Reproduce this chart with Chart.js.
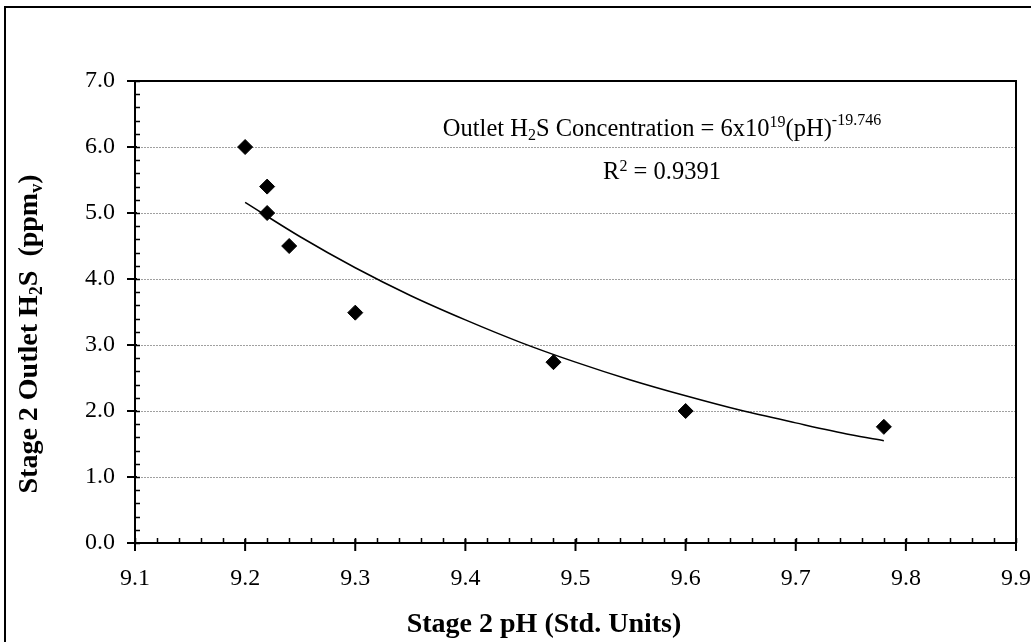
<!DOCTYPE html>
<html lang="en">
<head>
  <meta charset="UTF-8" />
  <title>Stage 2 Outlet H2S vs pH</title>
  <script src="https://cdn.jsdelivr.net/npm/chart.js"></script>
  <style>
    body { margin: 0; background: #fff; }
    canvas { display: block; }
  </style>
</head>
<body>
  <canvas id="phChart" width="1031" height="642"></canvas>

  <script>
    // measured points
    const phValues  = [9.20, 9.22, 9.22, 9.24, 9.30, 9.48, 9.60, 9.78];
    const h2sValues = [6.00, 5.40, 5.00, 4.50, 3.49, 2.74, 2.00, 1.76];

    // power trendline
    const trendPh  = [9.20, 9.25, 9.30, 9.35, 9.40, 9.45, 9.50, 9.55, 9.60, 9.65, 9.70, 9.75, 9.78];
    const trendH2s = [5.16, 4.64, 4.17, 3.75, 3.38, 3.04, 2.74, 2.47, 2.23, 2.01, 1.82, 1.64, 1.55];

    // axis ticks
    const xTicks = [9.1, 9.2, 9.3, 9.4, 9.5, 9.6, 9.7, 9.8, 9.9];
    const yTicks = [0, 1, 2, 3, 4, 5, 6, 7];

    const SERIF = "'Liberation Serif', 'Times New Roman', serif";
    const reg = px => `${px}px ${SERIF}`;
    const bold = px => `bold ${px}px ${SERIF}`;

    // text with sub/superscripts, centred on x
    function drawRich(ctx, parts, x, y) {
      let total = 0;
      parts.forEach(p => { ctx.font = p.f; p.w = ctx.measureText(p.t).width; total += p.w; });
      let cx = x - total / 2;
      ctx.textAlign = 'left';
      ctx.textBaseline = 'alphabetic';
      parts.forEach(p => {
        ctx.font = p.f;
        ctx.fillText(p.t, cx, y + (p.dy || 0));
        cx += p.w;
      });
    }

    const frame = {
      id: 'frame',
      beforeDraw(chart) {
        const ctx = chart.ctx;
        ctx.save();
        ctx.fillStyle = '#fff';
        ctx.fillRect(0, 0, chart.width, chart.height);
        ctx.restore();
      },
      afterDraw(chart) {
        const { ctx, chartArea: a, scales: { x, y } } = chart;
        ctx.save();
        ctx.strokeStyle = '#000';
        ctx.fillStyle = '#000';

        // outer chart border (runs off the right and bottom)
        ctx.lineWidth = 2;
        ctx.strokeRect(5, 7, 1100, 700);

        // plot area top + right
        ctx.beginPath();
        ctx.moveTo(a.left, a.top);
        ctx.lineTo(a.right, a.top);
        ctx.lineTo(a.right, a.bottom);
        ctx.stroke();

        // axes
        ctx.beginPath();
        ctx.moveTo(a.left, a.top);
        ctx.lineTo(a.left, a.bottom);
        ctx.lineTo(a.right, a.bottom);
        ctx.stroke();

        // minor ticks (inside)
        ctx.lineWidth = 1.5;
        ctx.beginPath();
        for (let i = 0; i <= 35; i++) {
          const py = Math.round(y.getPixelForValue(i * 0.2)) + 0.5;
          ctx.moveTo(a.left, py); ctx.lineTo(a.left + 5, py);
        }
        for (let i = 0; i <= 40; i++) {
          const px = Math.round(x.getPixelForValue(9.1 + i * 0.02)) + 0.5;
          ctx.moveTo(px, a.bottom); ctx.lineTo(px, a.bottom - 5);
        }
        ctx.stroke();

        // major ticks (crossing)
        ctx.lineWidth = 2;
        ctx.beginPath();
        yTicks.forEach(v => {
          const py = y.getPixelForValue(v);
          ctx.moveTo(a.left - 8, py); ctx.lineTo(a.left + 2, py);
        });
        xTicks.forEach(v => {
          const px = x.getPixelForValue(v);
          ctx.moveTo(px, a.bottom - 4); ctx.lineTo(px, a.bottom + 8);
        });
        ctx.stroke();

        // equation + R squared
        drawRich(ctx, [
          { t: 'Outlet H', f: reg(24.5) },
          { t: '2', f: reg(16), dy: 4 },
          { t: 'S Concentration = 6x10', f: reg(24.5) },
          { t: '19', f: reg(16), dy: -9 },
          { t: '(pH)', f: reg(24.5) },
          { t: '-19.746', f: reg(16), dy: -11 }
        ], 662, 136);
        drawRich(ctx, [
          { t: 'R', f: reg(24.5) },
          { t: '2', f: reg(16), dy: -8 },
          { t: ' = 0.9391', f: reg(24.5) }
        ], 662, 179);

        // x title
        drawRich(ctx, [{ t: 'Stage 2 pH (Std. Units)', f: bold(28) }], 544, 632);

        // y title, rotated
        ctx.translate(37, 334);
        ctx.rotate(-Math.PI / 2);
        drawRich(ctx, [
          { t: 'Stage 2 Outlet H', f: bold(28) },
          { t: '2', f: bold(18), dy: 5 },
          { t: 'S  (ppm', f: bold(28) },
          { t: 'v', f: bold(18), dy: 5 },
          { t: ')', f: bold(28) }
        ], 0, 0);
        ctx.restore();
      }
    };

    new Chart(document.getElementById('phChart'), {
      type: 'scatter',
      data: {
        datasets: [
          {
            label: 'Measured',
            data: phValues.map((v, i) => ({ x: v, y: h2sValues[i] })),
            pointStyle: 'rectRot',
            pointRadius: 7.5,
            backgroundColor: '#000',
            borderColor: '#000',
            borderWidth: 1,
            order: 0
          },
          {
            label: 'Power trend',
            type: 'line',
            data: trendPh.map((v, i) => ({ x: v, y: trendH2s[i] })),
            borderColor: '#000',
            borderWidth: 1.5,
            pointRadius: 0,
            fill: false,
            cubicInterpolationMode: 'monotone',
            order: 1
          }
        ]
      },
      options: {
        responsive: false,
        animation: false,
        devicePixelRatio: 1,
        layout: { padding: { top: 81, right: 15, left: 0, bottom: 0 } },
        plugins: {
          legend: { display: false },
          tooltip: { enabled: false }
        },
        scales: {
          x: {
            type: 'linear',
            min: 9.1,
            max: 9.9,
            afterBuildTicks: s => { s.ticks = xTicks.map(v => ({ value: v })); },
            afterFit: s => { s.height = 99; s.paddingLeft = 0; s.paddingRight = 0; },
            grid: { display: false, drawTicks: false },
            border: { display: false },
            ticks: {
              color: '#000',
              font: { family: SERIF, size: 24 },
              padding: 21,
              maxRotation: 0,
              autoSkip: false,
              callback: v => Number(v).toFixed(1)
            }
          },
          y: {
            min: 0,
            max: 7,
            afterBuildTicks: s => { s.ticks = yTicks.map(v => ({ value: v })); },
            afterFit: s => { s.width = 135; s.paddingTop = 0; s.paddingBottom = 0; },
            grid: { color: '#a0a0a0', lineWidth: 1, drawTicks: false },
            border: { display: false, dash: [2, 1] },
            ticks: {
              color: '#000',
              font: { family: SERIF, size: 24 },
              padding: 20,
              callback: v => Number(v).toFixed(1)
            }
          }
        }
      },
      plugins: [frame]
    });
  </script>
</body>
</html>
